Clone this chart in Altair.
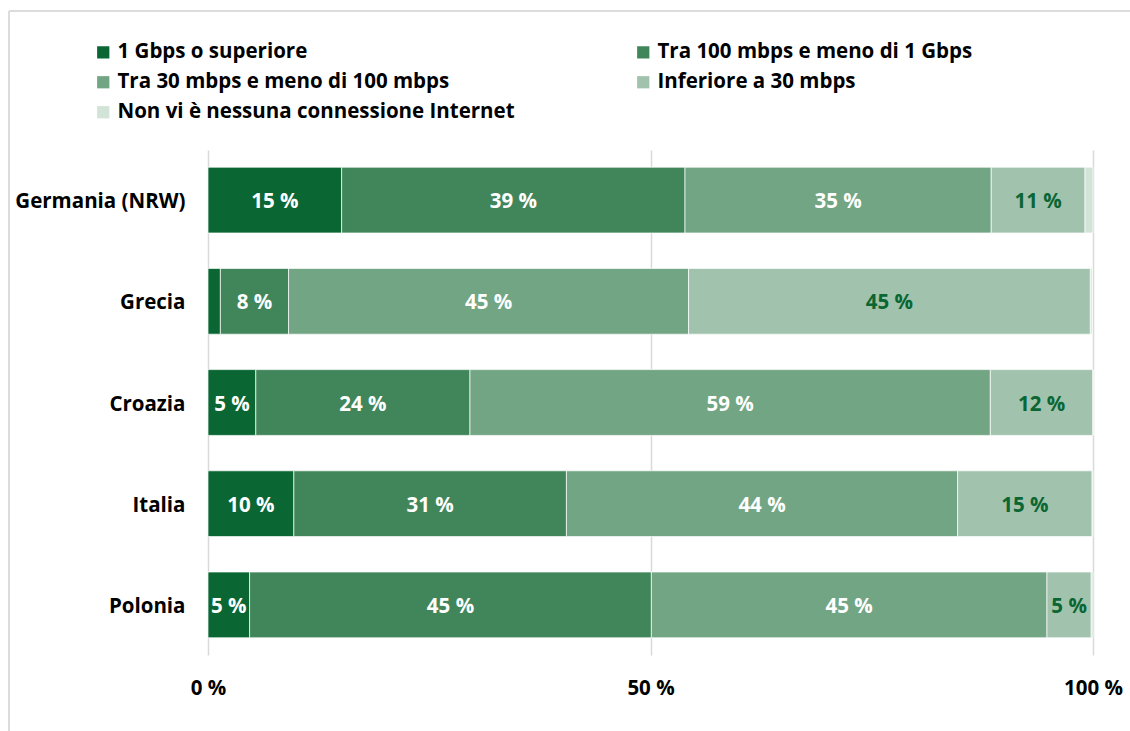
import altair as alt
import pandas as pd

countries = ["Germania (NRW)", "Grecia", "Croazia", "Italia", "Polonia"]
categories = [
    "1 Gbps o superiore",
    "Tra 100 mbps e meno di 1 Gbps",
    "Tra 30 mbps e meno di 100 mbps",
    "Inferiore a 30 mbps",
    "Non vi è nessuna connessione Internet",
]
gbps1 = [15.1, 1.4, 5.4, 9.7, 4.7]
mb100 = [38.8, 7.7, 24.2, 30.8, 45.4]
mb30 = [34.6, 45.2, 58.8, 44.2, 44.7]
under30 = [10.6, 45.4, 11.6, 15.2, 5.0]
no_conn = [0.9, 0.2, 0.0, 0.1, 0.2]
colors = ["#0a6633", "#41865a", "#72a583", "#a1c3ad", "#d2e3d7"]
label_colors = ["#ffffff", "#ffffff", "#ffffff", "#0a6633", "#0a6633"]
x_ticks = [0, 50, 100]

# legend fills column by column: list entries so rows read left to right
legend_order = [0, 2, 4, 1, 3]
legend_domain = [categories[i] for i in legend_order]
legend_range = [colors[i] for i in legend_order]

series = [gbps1, mb100, mb30, under30, no_conn]
rows = []
for ci, country in enumerate(countries):
    for k, cat in enumerate(categories):
        rows.append({"country": country, "category": cat, "order": k,
                     "value": series[k][ci], "tcolor": label_colors[k]})
df = pd.DataFrame(rows)

FONT = "Open Sans"
FS = 20.5

base = alt.Chart(df).transform_stack(
    stack="value", groupby=["country"], as_=["x0", "x1"],
    sort=[alt.SortField("order", order="ascending")]
).transform_calculate(
    mid="(datum.x0 + datum.x1) / 2",
    label="round(datum.value) + ' %'"
)

y_enc = alt.Y("country:N", sort=countries, title=None,
              scale=alt.Scale(paddingInner=0.35, paddingOuter=0.17),
              axis=alt.Axis(labelFontSize=FS, labelFont=FONT, labelFontWeight="bold",
                            labelColor="#000000", labelPadding=23, labelOffset=2,
                            ticks=False, domain=False, grid=False))

bars = base.mark_bar(stroke="#ffffff", strokeWidth=0.7).encode(
    x=alt.X("x0:Q", title=None,
            scale=alt.Scale(domain=[0, 100], nice=False),
            axis=alt.Axis(values=x_ticks, labelExpr="datum.value + ' %'",
                          labelFontSize=FS, labelFont=FONT, labelFontWeight="bold",
                          labelColor="#000000", labelPadding=23, ticks=False,
                          labelFlush=False, labelOverlap=False,
                          domain=False, grid=True, gridColor="#d9d9d9",
                          gridWidth=1.5)),
    x2="x1:Q",
    y=y_enc,
    color=alt.Color("category:N",
                    scale=alt.Scale(domain=legend_domain, range=legend_range),
                    legend=alt.Legend(title=None, orient="none", legendX=-115,
                                      legendY=-108, columns=2, columnPadding=118,
                                      rowPadding=9, symbolType="square",
                                      symbolSize=150, symbolStrokeWidth=0,
                                      labelFontSize=FS, labelFont=FONT,
                                      labelFontWeight="bold", labelColor="#000000",
                                      labelOffset=4, labelLimit=600)),
    order=alt.Order("order:Q"),
)

texts = base.transform_filter("datum.value >= 3").mark_text(
    fontSize=FS, font=FONT, fontWeight="bold", align="center", baseline="middle",
    dy=2
).encode(
    x=alt.X("mid:Q"),
    y=alt.Y("country:N", sort=countries),
    text="label:N",
    color=alt.Color("tcolor:N", scale=None, legend=None),
)

frame_top = alt.Chart(pd.DataFrame({"a": [0]})).mark_rule(
    color="#dcdcdc", strokeWidth=2
).encode(x=alt.value(-199), x2=alt.value(930), y=alt.value(-139))
frame_left = alt.Chart(pd.DataFrame({"a": [0]})).mark_rule(
    color="#dcdcdc", strokeWidth=2
).encode(x=alt.value(-199), y=alt.value(-139), y2=alt.value(590))

chart = alt.layer(frame_top, frame_left, bars, texts).properties(
    width=885, height=505,
    autosize=alt.AutoSizeParams(type="none"),
    padding={"left": 208, "top": 150, "right": 37, "bottom": 76},
    background="#ffffff",
).configure_view(stroke=None)

chart.save("out.html", embed_options={"renderer": "svg", "actions": False})
